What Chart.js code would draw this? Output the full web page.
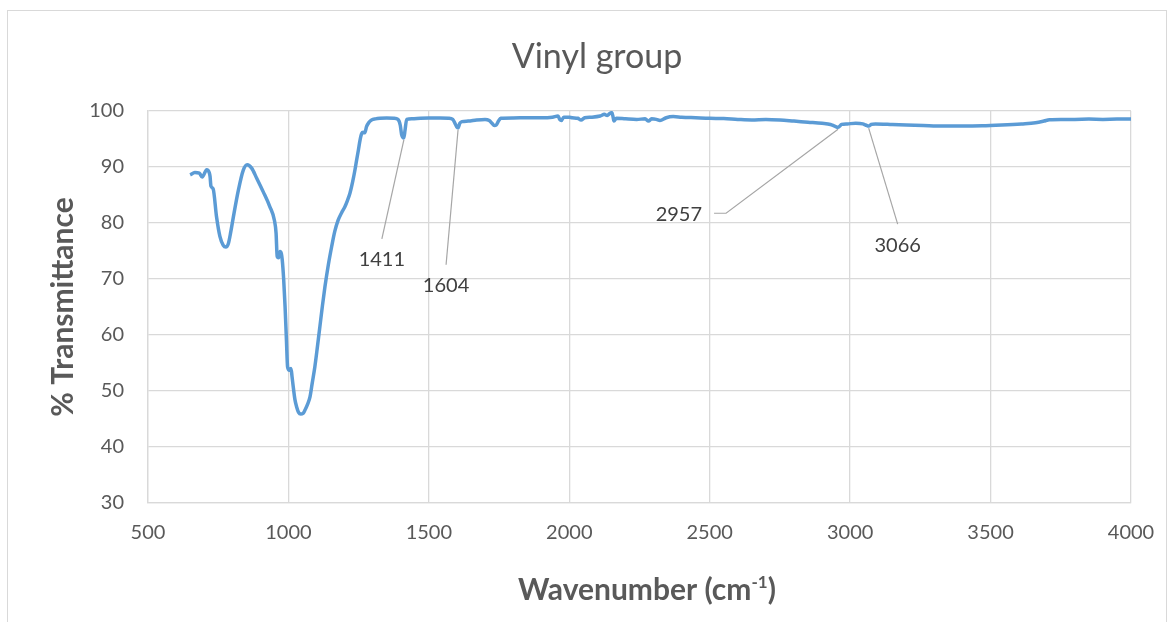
<!DOCTYPE html>
<html>
<head>
<meta charset="utf-8">
<script src="https://cdn.jsdelivr.net/npm/chart.js@4.4.1/dist/chart.umd.min.js"></script>
<style>
  html, body { margin: 0; padding: 0; background: #fff; }
  #wrap { position: relative; width: 1173px; height: 622px; overflow: hidden; }
  #frame { position: absolute; left: 7px; top: 10px; width: 1160px; height: 640px; border: 1px solid #d9d9d9; box-sizing: border-box; }
  #box { position: absolute; left: 0; top: 0; width: 1173px; height: 622px; }
</style>
</head>
<body>
<div id="wrap">
  <div id="frame"></div>
  <div id="box"><canvas id="irChart"></canvas></div>
</div>
<script>
// Dữ liệu phổ IR
const wavenumbers = [
  650, 667, 683, 693, 709, 718, 721, 724, 732, 744, 756, 768, 777, 786, 795, 804, 822, 839, 853, 869,
  887, 910, 934, 950, 956, 960, 965, 970, 975, 978, 983, 988, 993, 997, 1003, 1009, 1013, 1017, 1023, 1029,
  1036, 1044, 1052, 1059, 1068, 1077, 1085, 1094, 1103, 1112, 1121, 1130, 1142, 1154, 1165, 1177, 1189, 1201, 1210, 1219,
  1228, 1237, 1243, 1249, 1255, 1261, 1266, 1272, 1278, 1287, 1296, 1310, 1326, 1350, 1375, 1390, 1398, 1403, 1411, 1415,
  1421, 1440, 1470, 1500, 1540, 1570, 1585, 1593, 1600, 1604, 1610, 1618, 1640, 1670, 1700, 1715, 1725, 1733, 1740, 1748,
  1756, 1800, 1850, 1900, 1940, 1960, 1966, 1972, 1980, 2000, 2010, 2030, 2042, 2055, 2080, 2110, 2125, 2135, 2145, 2152,
  2156, 2159, 2168, 2200, 2240, 2270, 2282, 2293, 2310, 2323, 2345, 2370, 2400, 2450, 2500, 2550, 2600, 2650, 2700, 2750,
  2800, 2850, 2900, 2930, 2945, 2957, 2970, 2990, 3020, 3045, 3055, 3066, 3075, 3090, 3150, 3200, 3260, 3330, 3400, 3470,
  3540, 3610, 3660, 3690, 3710, 3750, 3800, 3850, 3900, 3950, 4000
];
const transmittance = [
  88.6, 89.0, 88.9, 88.2, 89.5, 89.0, 88.3, 86.6, 86.1, 81.1, 77.6, 76.0, 75.7, 76.3, 78.5, 81.1, 85.9, 89.4, 90.4, 89.8,
  88.0, 85.6, 82.9, 80.5, 78.2, 74.0, 73.8, 74.9, 74.5, 73.4, 70.0, 65.1, 59.0, 54.3, 53.7, 54.0, 52.5, 50.8, 48.5, 47.2,
  46.2, 45.9, 46.0, 46.6, 47.6, 49.0, 51.5, 54.3, 57.8, 61.5, 65.2, 68.6, 72.5, 75.8, 78.5, 80.5, 81.8, 82.9, 84.0, 85.3,
  87.2, 89.5, 91.3, 93.0, 94.8, 96.0, 96.2, 96.1, 97.2, 98.0, 98.4, 98.6, 98.7, 98.75, 98.7, 98.5, 97.5, 95.8, 95.2, 96.5,
  98.5, 98.6, 98.7, 98.75, 98.75, 98.7, 98.5, 97.8, 97.1, 97.0, 97.8, 98.1, 98.2, 98.4, 98.5, 98.3, 97.8, 97.4, 97.5, 98.2,
  98.7, 98.75, 98.8, 98.8, 98.9, 99.1, 98.5, 98.3, 98.9, 98.9, 98.8, 98.7, 98.4, 98.8, 98.9, 99.1, 99.4, 99.2, 99.6, 99.7,
  98.9, 98.2, 98.7, 98.6, 98.5, 98.6, 98.2, 98.6, 98.5, 98.3, 98.8, 99.0, 98.9, 98.8, 98.7, 98.65, 98.5, 98.4, 98.5, 98.4,
  98.2, 98.0, 97.8, 97.6, 97.3, 97.1, 97.6, 97.7, 97.8, 97.7, 97.5, 97.3, 97.6, 97.7, 97.6, 97.5, 97.4, 97.3, 97.3, 97.35,
  97.5, 97.7, 97.9, 98.2, 98.45, 98.5, 98.5, 98.55, 98.5, 98.55, 98.55
];
const xTicks = [500, 1000, 1500, 2000, 2500, 3000, 3500, 4000];
const yTicks = [30, 40, 50, 60, 70, 80, 90, 100];
const peakLabels = [1411, 1604, 2957, 3066];

const FONT = 'Lato, "Open Sans", sans-serif';
const GRID = '#d9d9d9';
const TEXT = '#595959';

// Vị trí nhãn chú thích (lệch so với điểm, tính bằng px)
const calloutStyle = {
  1411: { path: [[-22, 101]], label: [-22, 122], align: 'center' },
  1604: { path: [[-12, 137]], label: [-12, 158], align: 'center' },
  2957: { path: [[-112, 86], [-124, 86]], label: [-136, 87], align: 'right' },
  3066: { path: [[29, 98]], label: [29, 119], align: 'center' }
};

// Vẽ đường dẫn và nhãn của các đỉnh
const calloutPlugin = {
  id: 'callouts',
  afterDatasetsDraw(chart) {
    const { ctx, scales: { x, y } } = chart;
    ctx.save();
    peakLabels.forEach(wn => {
      const idx = wavenumbers.indexOf(wn);
      const px = x.getPixelForValue(wn);
      const py = y.getPixelForValue(transmittance[idx]);
      const st = calloutStyle[wn];
      ctx.strokeStyle = '#a6a6a6';
      ctx.lineWidth = 1.2;
      ctx.beginPath();
      ctx.moveTo(px, py + 2);
      st.path.forEach(p => ctx.lineTo(px + p[0], py + p[1]));
      ctx.stroke();
      ctx.fillStyle = '#404040';
      ctx.font = '20px ' + FONT;
      ctx.textAlign = st.align;
      ctx.textBaseline = 'middle';
      ctx.fillText(String(wn), px + st.label[0], py + st.label[1]);
    });
    ctx.restore();
  }
};

// Tiêu đề biểu đồ và tiêu đề trục X (có chỉ số trên)
const titlesPlugin = {
  id: 'titles',
  afterDraw(chart) {
    const { ctx } = chart;
    ctx.save();
    ctx.fillStyle = TEXT;
    ctx.textBaseline = 'middle';
    ctx.textAlign = 'center';
    ctx.font = '34px ' + FONT;
    ctx.fillText('Vinyl group', 597, 57);

    const main = 'Wavenumber (cm';
    const sup = '-1';
    const end = ')';
    ctx.textBaseline = 'alphabetic';
    ctx.textAlign = 'left';
    ctx.font = 'bold 30px ' + FONT;
    const w1 = ctx.measureText(main).width;
    const w3 = ctx.measureText(end).width;
    ctx.font = 'bold 17px ' + FONT;
    const w2 = ctx.measureText(sup).width;
    const total = w1 + w2 + w3;
    const cx = 647 - total / 2;
    const base = 600;
    ctx.font = 'bold 30px ' + FONT;
    ctx.fillText(main, cx, base);
    ctx.font = 'bold 17px ' + FONT;
    ctx.fillText(sup, cx + w1, base - 12);
    ctx.font = 'bold 30px ' + FONT;
    ctx.fillText(end, cx + w1 + w2, base);
    ctx.restore();
  }
};

new Chart(document.getElementById('irChart'), {
  type: 'line',
  data: {
    datasets: [{
      label: 'Vinyl group',
      data: wavenumbers.map((wn, i) => ({ x: wn, y: transmittance[i] })),
      borderColor: '#5b9bd5',
      borderWidth: 3.5,
      pointRadius: 0,
      cubicInterpolationMode: 'monotone',
      fill: false
    }]
  },
  options: {
    responsive: true,
    maintainAspectRatio: false,
    animation: false,
    layout: { padding: { left: 0, right: 42, top: 111, bottom: 0 } },
    plugins: {
      legend: { display: false },
      tooltip: { enabled: false },
      title: { display: false }
    },
    scales: {
      x: {
        type: 'linear',
        min: xTicks[0],
        max: xTicks[xTicks.length - 1],
        afterBuildTicks: s => { s.ticks = xTicks.map(v => ({ value: v })); },
        afterFit: s => { s.height = 119; },
        grid: { color: GRID, lineWidth: 1.3, drawTicks: false },
        border: { color: GRID, width: 1.3 },
        ticks: { color: TEXT, font: { family: FONT, size: 20 }, padding: 18, maxRotation: 0, callback: v => String(v) }
      },
      y: {
        min: yTicks[0],
        max: yTicks[yTicks.length - 1],
        afterBuildTicks: s => { s.ticks = yTicks.map(v => ({ value: v })); },
        afterFit: s => { s.width = 148; },
        grid: { color: GRID, lineWidth: 1.3, drawTicks: false },
        border: { color: GRID, width: 1.3 },
        ticks: { color: TEXT, font: { family: FONT, size: 20 }, padding: 24, callback: v => String(v) },
        title: {
          display: true,
          text: '% Transmittance',
          color: TEXT,
          font: { family: FONT, size: 30, weight: 'bold' },
          padding: { top: 45, bottom: 0 }
        }
      }
    }
  },
  plugins: [calloutPlugin, titlesPlugin]
});
</script>
</body>
</html>
